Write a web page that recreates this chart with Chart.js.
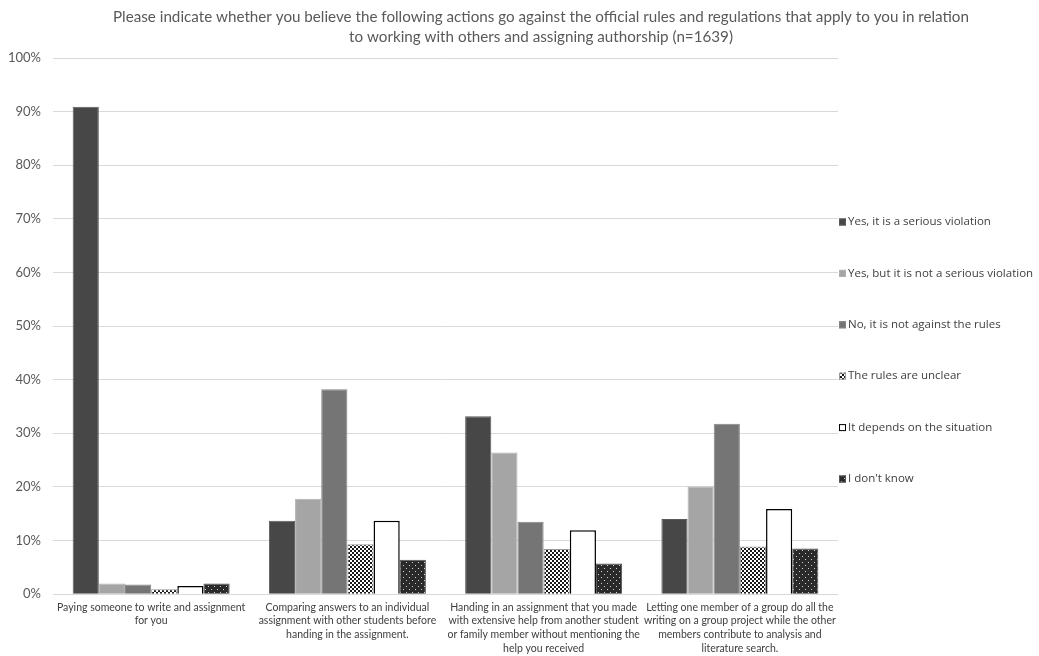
<!DOCTYPE html>
<html>
<head>
<meta charset="utf-8">
<script src="https://cdn.jsdelivr.net/npm/chart.js@4/dist/chart.umd.min.js"></script>
<style>
  html, body { margin: 0; padding: 0; background: #fff; }
  #wrap { width: 1039px; height: 656px; }
</style>
</head>
<body>
<div id="wrap"><canvas id="myChart"></canvas></div>
<script>
// chart title (two lines)
var titleLines = [
  "Please indicate whether you believe the following actions go against the official rules and regulations that apply to you in relation",
  "to working with others and assigning authorship (n=1639)"
];

// categories, one array of lines per category
var categories = [
  ["Paying someone to write and assignment", "for you"],
  ["Comparing answers to an individual", "assignment with other students before", "handing in the assignment."],
  ["Handing in an assignment that you made", "with extensive help from another student", "or family member without mentioning the", "help you received"],
  ["Letting one member of a group do all the", "writing on a group project while the other", "members contribute to analysis and", "literature search."]
];

// series names
var seriesNames = [
  "Yes, it is a serious violation",
  "Yes, but it is not a serious violation",
  "No, it is not against the rules",
  "The rules are unclear",
  "It depends on the situation",
  "I don't know"
];

// values in percent
var yesSerious = [90.9, 13.7, 33.2, 14.0];
var yesNotSerious = [2.0, 17.8, 26.4, 20.1];
var notAgainst = [1.8, 38.2, 13.5, 31.8];
var rulesUnclear = [0.9, 9.3, 8.4, 8.9];
var dependsSituation = [1.5, 13.7, 11.9, 15.9];
var dontKnow = [2.0, 6.4, 5.7, 8.5];

// y axis ticks
var yMin = 0;
var yMax = 100;
var yStep = 10;

// checkerboard pattern for "The rules are unclear"
function makeChecker(ctx) {
  var c = document.createElement("canvas");
  c.width = 4; c.height = 4;
  var p = c.getContext("2d");
  p.fillStyle = "#ffffff";
  p.fillRect(0, 0, 4, 4);
  p.fillStyle = "#1a1a1a";
  p.fillRect(0, 0, 2, 2);
  p.fillRect(2, 2, 2, 2);
  return ctx.createPattern(c, "repeat");
}

// dark with white dots for "I don't know"
function makeDots(ctx) {
  var c = document.createElement("canvas");
  c.width = 6; c.height = 6;
  var p = c.getContext("2d");
  p.fillStyle = "#2a2a2a";
  p.fillRect(0, 0, 6, 6);
  p.fillStyle = "#d0d0d0";
  p.fillRect(1, 1, 1, 1);
  p.fillRect(4, 4, 1, 1);
  return ctx.createPattern(c, "repeat");
}

var ctx = document.getElementById("myChart").getContext("2d");
var checker = makeChecker(ctx);
var dots = makeDots(ctx);

var fills = ["#474747", "#a5a5a5", "#757575", checker, "#ffffff", dots];
var borders = ["#5a5a5a", "#b0b0b0", "#858585", "#9a9a9a", "#000000", "#555555"];
var borderWidths = [1, 1, 1, 1, 1.5, 1];
var values = [yesSerious, yesNotSerious, notAgainst, rulesUnclear, dependsSituation, dontKnow];

var datasets = [];
for (var i = 0; i < seriesNames.length; i++) {
  datasets.push({
    label: seriesNames[i],
    data: values[i],
    backgroundColor: fills[i],
    borderColor: borders[i],
    borderWidth: borderWidths[i],
    categoryPercentage: 0.8,
    barPercentage: 1.0
  });
}

// draws the title centred over the page
var titlePlugin = {
  id: "titleText",
  afterDraw: function (chart) {
    var c = chart.ctx;
    c.save();
    c.fillStyle = "#595959";
    c.font = "15.2px Lato";
    c.textAlign = "center";
    c.textBaseline = "middle";
    c.fillText(titleLines[0], 541, 17);
    c.fillText(titleLines[1], 541, 37);
    c.restore();
  }
};

// draws the legend on the right, spaced out like the original
var legendPlugin = {
  id: "sideLegend",
  afterDraw: function (chart) {
    var c = chart.ctx;
    var x = chart.chartArea.right;
    var n = chart.data.datasets.length;
    c.save();
    c.font = "11.5px 'Open Sans'";
    c.textBaseline = "middle";
    c.textAlign = "left";
    for (var i = 0; i < n; i++) {
      var ds = chart.data.datasets[i];
      var y = 350.5 + (i - (n - 1) / 2) * 51.4;
      c.fillStyle = ds.backgroundColor;
      c.fillRect(x + 1, y - 3.5, 7, 7);
      c.strokeStyle = ds.borderColor;
      c.lineWidth = 1;
      c.strokeRect(x + 1.5, y - 3, 6, 6);
      c.fillStyle = "#404040";
      c.fillText(ds.label, x + 10, y);
    }
    c.restore();
  }
};

var myBarChart = new Chart(ctx, {
  type: "bar",
  data: {
    labels: categories,
    datasets: datasets
  },
  options: {
    responsive: true,
    maintainAspectRatio: false,
    animation: false,
    layout: {
      padding: { top: 58, right: 201, left: -4, bottom: -6 }
    },
    plugins: {
      legend: { display: false },
      title: { display: false },
      tooltip: { enabled: false }
    },
    scales: {
      x: {
        grid: { display: false, drawTicks: false },
        border: { display: false },
        ticks: {
          color: "#404040",
          font: { family: "Lato", size: 10.5, lineHeight: 1.33 },
          padding: 6,
          maxRotation: 0,
          autoSkip: false
        }
      },
      y: {
        min: yMin,
        max: yMax,
        grid: { color: "#d9d9d9", lineWidth: 1, drawTicks: false },
        border: { display: false },
        ticks: {
          stepSize: yStep,
          color: "#595959",
          font: { family: "Lato", size: 13 },
          padding: 12,
          callback: function (v) { return v + "%"; }
        }
      }
    }
  },
  plugins: [titlePlugin, legendPlugin]
});
</script>
</body>
</html>
